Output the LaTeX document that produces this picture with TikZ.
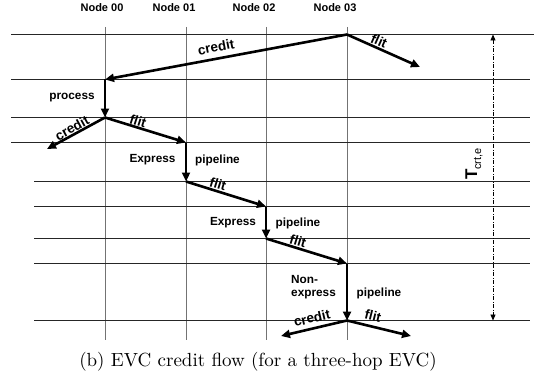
\documentclass[tikz,border=0pt]{standalone}
\usepackage{fontspec}
\usepackage{graphicx}
\newfontfamily\arial{Liberation Sans}
\usetikzlibrary{arrows.meta}
\tikzset{
  hline/.style={black!85, line width=1pt},
  vline/.style={black!55, line width=0.8pt},
  flow/.style={line width=2.6pt, -{Triangle[length=9pt,width=8pt]}},
  nodelbl/.style={font={\arial\bfseries\fontsize{11}{13}\selectfont}, inner sep=0pt},
  lbl/.style={font={\arial\bfseries\fontsize{11.8}{13}\selectfont}, inner sep=0pt},
  slbl/.style={font={\arial\bfseries\fontsize{13.5}{15}\selectfont}, inner sep=0pt},
  dimline/.style={line width=0.9pt, dash pattern=on 4pt off 1.5pt on 1pt off 1.5pt,
    {Triangle[length=6pt,width=5pt]}-{Triangle[length=6pt,width=5pt]}}
}
\begin{document}
\begin{tikzpicture}[x=1pt,y=-1pt]
\useasboundingbox (0,0) rectangle (534,377);
% node column labels
\node[nodelbl] (n0) at (102,8) {Node 00};
\node[nodelbl] (n1) at (174,8) {Node 01};
\node[nodelbl] (n2) at (254,8) {Node 02};
\node[nodelbl] (n3) at (335,8) {Node 03};
% vertical node lines
\foreach \x in {105,186,266,347} \draw[vline] (\x,27) -- (\x,340);
% horizontal time lines
\draw[hline] (11,34.5) -- (534,34.5);
\foreach \y in {79.5,117.5,142.5} \draw[hline] (11,\y) -- (530,\y);
\foreach \y in {181.5,206.5,238.5,263.5,320.5} \draw[hline] (34,\y) -- (530,\y);
% junction coordinates
\coordinate (p0) at (347,34.5);
\coordinate (p1) at (105,79.5);
\coordinate (p2) at (105,117.5);
\coordinate (p3) at (186,142.5);
\coordinate (p4) at (186,181.5);
\coordinate (p5) at (266,206.5);
\coordinate (p6) at (266,238.5);
\coordinate (p7) at (347,263.5);
\coordinate (p8) at (347,320.5);
\coordinate (f0) at (420,67);
\coordinate (c2) at (47,149);
\coordinate (c8) at (281,336);
\coordinate (f8) at (411,336);
% flows
\draw[flow] (p0) -- (p1);
\draw[flow] (p0) -- (f0);
\draw[flow] (p1) -- (p2);
\draw[flow] (p2) -- (c2);
\draw[flow] (p2) -- (p3);
\draw[flow] (p3) -- (p4);
\draw[flow] (p4) -- (p5);
\draw[flow] (p5) -- (p6);
\draw[flow] (p6) -- (p7);
\draw[flow] (p7) -- (p8);
\draw[flow] (p8) -- (c8);
\draw[flow] (p8) -- (f8);
% labels
\node[slbl, rotate=11] (lc0) at (216,47) {credit};
\node[slbl, rotate=-24] (lf0) at (379,41) {flit};
\node[lbl] (lp) at (72,98) {process};
\node[slbl, rotate=29] (lc2) at (72,128) {credit};
\node[slbl, rotate=-18] (lf2) at (138,121) {flit};
\node[lbl] (le1) at (152.5,160) {Express};
\node[lbl] (lpp1) at (217.5,160) {pipeline};
\node[slbl, rotate=-17] (lf4) at (218,184) {flit};
\node[lbl] (le2) at (233,223) {Express};
\node[lbl] (lpp2) at (298,223) {pipeline};
\node[slbl, rotate=-17] (lf6) at (298,241) {flit};
\node[lbl, anchor=west, align=left] (lne) at (291,287) {Non-\\express};
\node[lbl] (lpp3) at (379,293) {pipeline};
\node[slbl, rotate=13] (lc8) at (312,318) {credit};
\node[slbl, rotate=-14] (lf8) at (373,316) {flit};
% T crt,e dimension
\coordinate (dt) at (493,34.5);
\coordinate (db) at (493,320.5);
\draw[dimline] (dt) -- (db);
\node[rotate=90, inner sep=0pt] (tl) at (474,164) {{\arial\bfseries\fontsize{17}{17}\selectfont T}{\arial\fontsize{11}{11}\selectfont\raisebox{-4pt}{crt,e}}};
% caption
\node[anchor=base, inner sep=0pt] (cap) at (258,366) {\scalebox{1.9}{(b) EVC credit flow (for a three-hop EVC)}};
\end{tikzpicture}
\end{document}
